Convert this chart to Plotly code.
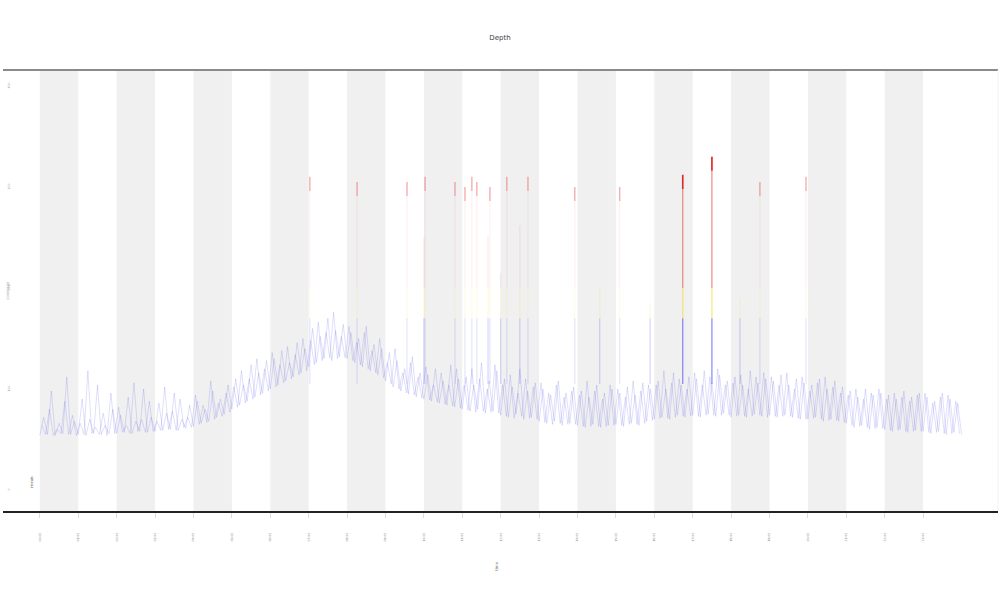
import plotly.graph_objects as go

# ---------------- data ----------------
x_start = 0.0
x_step = 0.1
depth_values = [
    54, 72, 55, 98, 54, 66, 56, 112, 55, 68,
    55, 90, 54, 70, 56, 104, 55, 64, 56, 80,
    56, 74, 57, 92, 56, 68, 58, 100, 57, 72,
    58, 86, 59, 76, 60, 96, 59, 70, 61, 84,
    63, 88, 66, 80, 68, 98, 72, 90, 75, 104,
    80, 110, 84, 104, 88, 124, 92, 116, 96, 128,
    100, 130, 104, 138, 108, 126, 112, 146, 116, 140,
    122, 160, 126, 152, 130, 170, 128, 158, 132, 164,
    130, 156, 126, 150, 122, 162, 118, 144, 114, 140,
    108, 136, 102, 128, 98, 120, 95, 132, 92, 116,
    90, 114, 88, 120, 86, 108, 84, 124, 82, 110,
    80, 112, 78, 104, 80, 126, 76, 108, 78, 118,
    74, 110, 72, 102, 75, 120, 70, 98, 72, 106,
    68, 100, 66, 94, 68, 108, 64, 96, 66, 102,
    64, 98, 62, 92, 65, 104, 62, 96, 64, 100,
    65, 96, 63, 102, 66, 94, 64, 106, 68, 100,
    70, 108, 72, 100, 70, 116, 74, 104, 72, 112,
    74, 110, 72, 118, 75, 106, 73, 114, 76, 108,
    72, 112, 74, 104, 72, 118, 75, 106, 73, 110,
    74, 108, 72, 114, 74, 104, 72, 110, 70, 106,
    70, 104, 72, 110, 68, 100, 70, 108, 68, 102,
    66, 98, 62, 92, 64, 100, 60, 94, 62, 96,
    60, 94, 58, 90, 60, 98, 57, 92, 59, 96,
    58, 92, 56, 88, 58, 96, 55, 90, 57, 86,
    55,
]

# readings taken half-way between the ones above
x_start_mid = 0.05
depth_values_mid = [
    64, 55, 80, 54, 60, 56, 88, 55, 74, 54,
    66, 55, 118, 56, 62, 55, 76, 54, 96, 56,
    82, 57, 64, 56, 106, 58, 70, 57, 88, 58,
    68, 59, 102, 60, 78, 59, 90, 62, 72, 62,
    94, 65, 84, 67, 108, 70, 86, 73, 96, 77,
    102, 82, 118, 86, 110, 90, 130, 94, 120, 98,
    136, 102, 124, 106, 142, 110, 134, 114, 150, 118,
    148, 124, 166, 128, 156, 131, 176, 130, 152, 131,
    162, 128, 146, 124, 156, 120, 138, 116, 150, 111,
    126, 105, 140, 100, 116, 96, 126, 94, 112, 91,
    122, 89, 104, 87, 116, 85, 104, 83, 120, 81,
    104, 79, 120, 77, 110, 78, 100, 77, 124, 76,
    104, 73, 114, 71, 96, 73, 110, 71, 102, 70,
    106, 67, 96, 65, 104, 66, 92, 65, 98, 65,
    94, 63, 108, 63, 98, 63, 90, 63, 104, 64,
    100, 64, 92, 65, 108, 65, 98, 66, 104, 69,
    104, 71, 118, 71, 106, 72, 110, 73, 100, 73,
    116, 73, 104, 74, 112, 74, 120, 74, 104, 74,
    106, 73, 114, 73, 100, 73, 112, 74, 116, 72,
    112, 73, 104, 73, 116, 73, 100, 71, 112, 70,
    98, 71, 106, 70, 112, 69, 102, 69, 96, 67,
    94, 64, 100, 63, 90, 62, 96, 61, 100, 61,
    90, 59, 96, 59, 92, 58, 88, 58, 94, 58,
    96, 57, 86, 57, 92, 56, 94, 56, 88, 56,
]

# tall spikes: (position, peak value)
major_spike_x = [16.74, 17.5]
major_spike_peak = [312, 330]
minor_spike_x = [7.03, 8.26, 9.56, 10.03, 10.81, 11.07, 11.25, 11.38, 11.72,
                 12.16, 12.71, 13.93, 15.1, 18.75, 19.95]
minor_spike_peak = [310, 305, 305, 310, 305, 300, 310, 305, 300,
                    310, 310, 300, 300, 305, 310]
mid_spike_x = [10.0, 11.67, 12.5, 14.58, 15.89, 18.23, 12.0]
mid_spike_peak = [250, 252, 262, 200, 185, 190, 215]

tick_values = list(range(0, 24))
tick_labels = [f"{v:02d}:00" for v in tick_values]
y_tick_values = [0, 100, 200, 300, 400]
y_tick_labels = ["0", "100", "200", "300", "400"]

title_text = "Depth"
x_title = "time"
y_title = "coverage"
note_text = "mean"

# thresholds for colouring
low_cut = 170
high_cut = 200

# ---------------- figure ----------------
xs = [x_start + i * x_step for i in range(len(depth_values))]
xs_mid = [x_start_mid + i * x_step for i in range(len(depth_values_mid))]

fig = go.Figure()

for xx, yy in ((xs, depth_values), (xs_mid, depth_values_mid)):
    fig.add_trace(go.Scatter(
        x=xx, y=yy, mode="lines",
        line=dict(color="rgba(90,90,235,0.36)", width=0.55),
        hoverinfo="skip", showlegend=False))


def spike_segments(sx, peaks, lo, hi):
    X, Y = [], []
    for x, p in zip(sx, peaks):
        if p > lo:
            X += [x, x, None]
            Y += [lo, min(p, hi), None]
    return X, Y


def add_spikes(sx, peaks, a_blue, a_yel, a_red, a_cap, w):
    bx, by = spike_segments(sx, peaks, 105, low_cut)
    fig.add_trace(go.Scatter(x=bx, y=by, mode="lines",
                             line=dict(color=f"rgba(70,70,240,{a_blue})", width=w),
                             hoverinfo="skip", showlegend=False))
    yx, yy = spike_segments(sx, peaks, low_cut, high_cut)
    fig.add_trace(go.Scatter(x=yx, y=yy, mode="lines",
                             line=dict(color=f"rgba(240,220,40,{a_yel})", width=w),
                             hoverinfo="skip", showlegend=False))
    rx, ry = spike_segments(sx, peaks, high_cut, 1000)
    fig.add_trace(go.Scatter(x=rx, y=ry, mode="lines",
                             line=dict(color=f"rgba(230,40,40,{a_red})", width=w),
                             hoverinfo="skip", showlegend=False))
    cx, cy = [], []
    for x, p in zip(sx, peaks):
        if p > high_cut:
            cx += [x, x, None]
            cy += [p - 14, p, None]
    fig.add_trace(go.Scatter(x=cx, y=cy, mode="lines",
                             line=dict(color=f"rgba(225,30,30,{a_cap})", width=w + 0.3),
                             hoverinfo="skip", showlegend=False))


add_spikes(mid_spike_x, mid_spike_peak, 0.35, 0.25, 0.15, 0.0, 0.8)
add_spikes(minor_spike_x, minor_spike_peak, 0.22, 0.18, 0.1, 0.4, 0.8)
add_spikes(major_spike_x, major_spike_peak, 0.6, 0.6, 0.5, 0.9, 1.3)

shapes = []
for k in range(0, len(tick_values), 2):
    shapes.append(dict(type="rect", xref="x", yref="paper",
                       x0=tick_values[k], x1=tick_values[k] + 1, y0=0, y1=1,
                       fillcolor="#f0f0f0", line=dict(width=0), layer="below"))
shapes.append(dict(type="line", xref="paper", yref="paper", x0=0, x1=1, y0=1, y1=1,
                   line=dict(color="#8a8a8a", width=2)))
shapes.append(dict(type="line", xref="paper", yref="paper", x0=1, x1=1, y0=0, y1=1,
                   line=dict(color="#f2f2f2", width=1)))

fig.update_layout(
    width=1000, height=600,
    margin=dict(l=3, r=2, t=70, b=89, autoexpand=False),
    paper_bgcolor="white", plot_bgcolor="white",
    shapes=shapes,
    font=dict(family="DejaVu Sans", color="#666"),
    title=dict(text=title_text, x=0.5, xanchor="center", y=0.938, yanchor="middle",
               font=dict(size=7, color="#444")),
    xaxis=dict(range=[-0.96, 24.95], tickvals=tick_values, ticktext=tick_labels,
               tickangle=-90, tickfont=dict(size=3, color="#888"),
               ticks="outside", ticklen=5, tickcolor="#ddd",
               ticklabelstandoff=14,
               showgrid=False, zeroline=False,
               showline=True, linecolor="#222", linewidth=1.5),
    yaxis=dict(range=[-20.8, 415.8], tickvals=y_tick_values, ticktext=y_tick_labels,
               tickangle=-90, tickfont=dict(size=3, color="#999"),
               ticklabelposition="inside",
               ticks="", showgrid=False, zeroline=False, showline=False),
    annotations=[
        dict(text=x_title, xref="paper", yref="paper", x=0.4966, y=-0.14,
             showarrow=False, textangle=-90, font=dict(size=4, color="#777")),
        dict(text=y_title, xref="paper", yref="paper", x=0.0, y=0.5,
             xanchor="left", showarrow=False, textangle=-90,
             font=dict(size=4, color="#aaa")),
        dict(text=note_text, xref="x", yref="y", x=-0.21, y=8,
             showarrow=False, textangle=-90, font=dict(size=4, color="#555")),
    ],
)

fig.write_html("out.html", config={"displayModeBar": False},
               post_script="document.body.style.margin='0';")
